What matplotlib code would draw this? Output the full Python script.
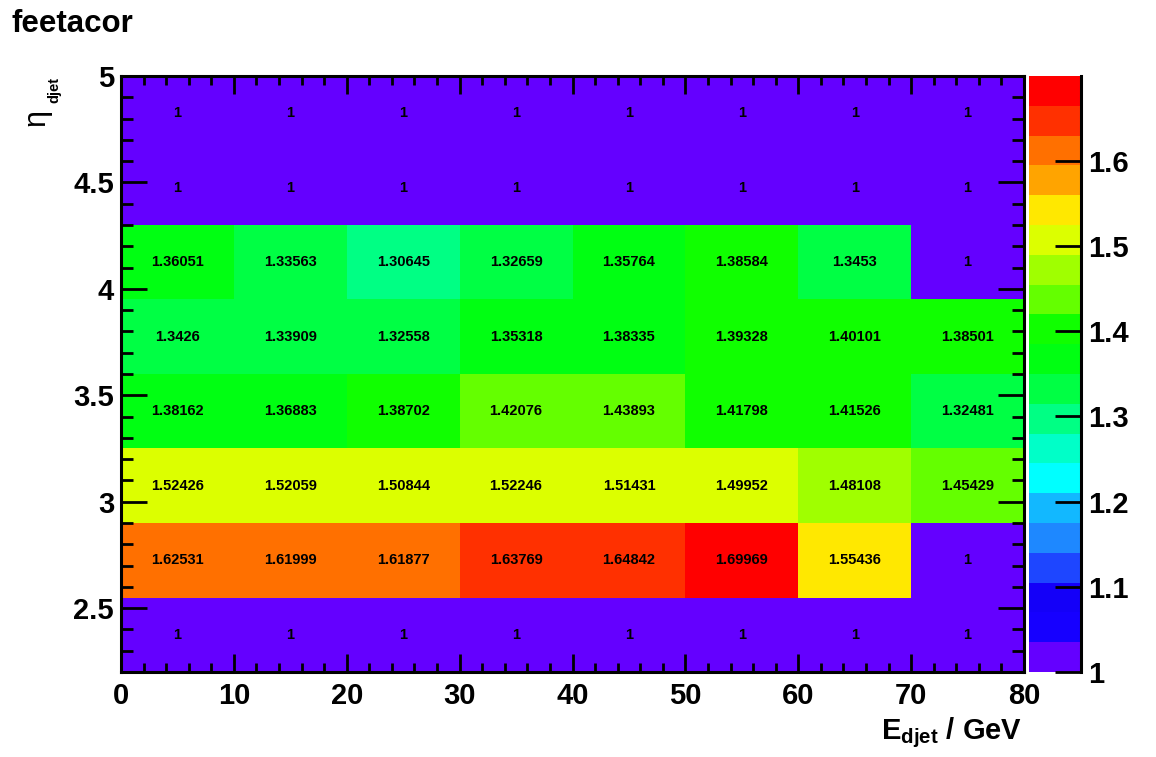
import numpy as np
import matplotlib
matplotlib.use("Agg")
import matplotlib.pyplot as plt
from matplotlib.colors import ListedColormap, BoundaryNorm
from matplotlib.ticker import MultipleLocator, FormatStrFormatter

plt.rcParams["font.family"] = ["Liberation Sans", "DejaVu Sans"]
plt.rcParams["font.weight"] = "bold"
plt.rcParams["mathtext.fontset"] = "custom"
plt.rcParams["mathtext.rm"] = "Liberation Sans"
plt.rcParams["mathtext.bf"] = "Liberation Sans:bold"

# histogram bins
e_edges = [0, 10, 20, 30, 40, 50, 60, 70, 80]
eta_edges = [2.2, 2.55, 2.9, 3.25, 3.6, 3.95, 4.3, 4.65, 5.0]

# bin contents, one row per eta bin (bottom to top)
row_2p20 = [1, 1, 1, 1, 1, 1, 1, 1]
row_2p55 = [1.62531, 1.61999, 1.61877, 1.63769, 1.64842, 1.69969, 1.55436, 1]
row_2p90 = [1.52426, 1.52059, 1.50844, 1.52246, 1.51431, 1.49952, 1.48108, 1.45429]
row_3p25 = [1.38162, 1.36883, 1.38702, 1.42076, 1.43893, 1.41798, 1.41526, 1.32481]
row_3p60 = [1.3426, 1.33909, 1.32558, 1.35318, 1.38335, 1.39328, 1.40101, 1.38501]
row_3p95 = [1.36051, 1.33563, 1.30645, 1.32659, 1.35764, 1.38584, 1.3453, 1]
row_4p30 = [1, 1, 1, 1, 1, 1, 1, 1]
row_4p65 = [1, 1, 1, 1, 1, 1, 1, 1]

z = np.array([row_2p20, row_2p55, row_2p90, row_3p25,
              row_3p60, row_3p95, row_4p30, row_4p65])

# ROOT-like 20 level palette, bottom to top
palette = ["#6400FF", "#1600FF", "#1400F8", "#1E46FF", "#1E88FF",
           "#12B8FF", "#00FFFF", "#00FFC8", "#00FF84", "#00FF44",
           "#00FF12", "#10FF00", "#64FF00", "#A0FF00", "#DCFF00",
           "#FFE800", "#FFA400", "#FF7000", "#FF3000", "#FF0000"]

zmin, zmax = 1.0, z.max()
levels = np.linspace(zmin, zmax, len(palette) + 1)
cmap = ListedColormap(palette)
norm = BoundaryNorm(levels, cmap.N, clip=True)

fig = plt.figure(figsize=(11.56, 7.57), dpi=100)
W, H = 1156, 757
ax = fig.add_axes([121 / W, 1 - 672 / H, (1024 - 121) / W, (672 - 76) / H])
cax = fig.add_axes([1029 / W, 1 - 672 / H, (1081 - 1029) / W, (672 - 76) / H])

mesh = ax.pcolormesh(e_edges, eta_edges, z, cmap=cmap, norm=norm)

xc = 0.5 * (np.array(e_edges[:-1]) + np.array(e_edges[1:]))
yc = 0.5 * (np.array(eta_edges[:-1]) + np.array(eta_edges[1:]))
for i, y in enumerate(yc):
    for j, x in enumerate(xc):
        ax.text(x, y, "%g" % z[i, j], ha="center", va="center",
                fontsize=10.5, fontweight="bold", color="black")

ax.set_xlim(e_edges[0], e_edges[-1])
ax.set_ylim(eta_edges[0], eta_edges[-1])
ax.xaxis.set_major_locator(MultipleLocator(10))
ax.xaxis.set_minor_locator(MultipleLocator(2))
ax.yaxis.set_major_locator(MultipleLocator(0.5))
ax.yaxis.set_minor_locator(MultipleLocator(0.1))
ax.yaxis.set_major_formatter(FormatStrFormatter("%g"))
for s in ax.spines.values():
    s.set_linewidth(2.2)
ax.tick_params(axis="both", which="both", direction="in", top=True, right=True,
               width=2, labelsize=21)
ax.tick_params(axis="x", which="major", length=13, pad=7)
ax.tick_params(axis="x", which="minor", length=6.5)
ax.tick_params(axis="y", which="major", length=18.7, pad=5)
ax.tick_params(axis="y", which="minor", length=8.6)

cbar = fig.colorbar(mesh, cax=cax, ticks=[1, 1.1, 1.2, 1.3, 1.4, 1.5, 1.6])
cbar.outline.set_visible(False)
cbar.minorticks_off()
cax.yaxis.set_major_formatter(FormatStrFormatter("%g"))
cax.tick_params(axis="y", direction="in", length=18.7, width=2, labelsize=21, pad=5,
                right=True, left=False)
cax.plot([1, 1], [0, 1], transform=cax.transAxes, color="black", lw=2.2, clip_on=False)

fig.text(12 / W, 1 - 32 / H, "feetacor", fontsize=22.5, fontweight="bold",
         ha="left", va="baseline")
fig.text(1022 / W, 1 - 739 / H, r"$\mathbf{E}_{\mathbf{djet}}$ / GeV", fontsize=21,
         fontweight="bold", ha="right", va="baseline")
fig.text(36 / W, 1 - 118 / H, "\u03b7", fontsize=22, fontweight="normal",
         rotation=90, ha="center", va="center")
fig.text(54 / W, 1 - 90 / H, "djet", fontsize=10.5, fontweight="bold",
         rotation=90, ha="center", va="center")

fig.savefig("out.png", dpi=100)
